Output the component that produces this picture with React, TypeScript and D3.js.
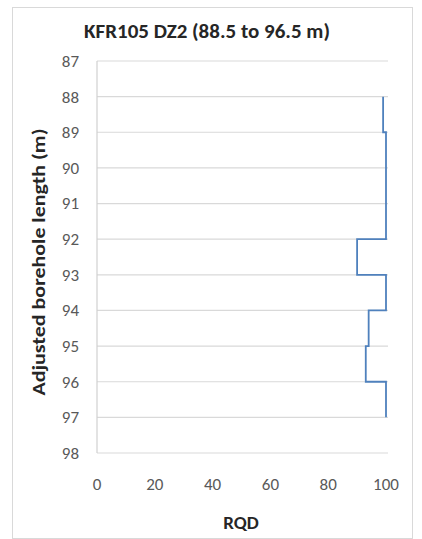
import React from "react";
import * as d3 from "d3";

const depthTicks = [87, 88, 89, 90, 91, 92, 93, 94, 95, 96, 97, 98];
const rqdTicks = [0, 20, 40, 60, 80, 100];
const intervalTop = [88, 89, 90, 91, 92, 93, 94, 95, 96];
const intervalBottom = [89, 90, 91, 92, 93, 94, 95, 96, 97];
const rqdValues = [99, 100, 100, 100, 90, 100, 94, 93, 100];

const W = 422;
const H = 539;

export default function App() {
  const x = d3.scaleLinear().domain([0, 100]).range([97, 386]);
  const y = d3.scaleLinear().domain([87, 98]).range([61, 453]);

  const pts: [number, number][] = [];
  intervalTop.forEach((t, i) => {
    pts.push([rqdValues[i], t]);
    pts.push([rqdValues[i], intervalBottom[i]]);
  });
  const line = d3
    .line<[number, number]>()
    .x((d) => x(d[0]))
    .y((d) => y(d[1]));

  const font = "Carlito, Calibri, Lato, 'Open Sans', sans-serif";

  return (
    <svg
      width={W}
      height={H}
      style={{ position: "absolute", left: 0, top: 0, background: "#fff" }}
      fontFamily={font}
    >
      <rect x={12.5} y={7.5} width={400} height={531} fill="#fff" stroke="#d9d9d9" />
      {depthTicks.map((t) => (
        <line key={t} x1={x(0)} x2={x(100) + 2} y1={y(t)} y2={y(t)} stroke="#d9d9d9" strokeWidth={1.2} />
      ))}
      <line x1={x(0)} x2={x(0)} y1={y(87)} y2={y(98)} stroke="#d0d0d0" strokeWidth={1.2} />
      <path d={line(pts) || ""} fill="none" stroke="#4f81bd" strokeWidth={1.8} />
      {depthTicks.map((t) => (
        <text key={t} x={79} y={y(t)} dy="0.35em" textAnchor="end" fontSize={17} fill="#595959">
          {t}
        </text>
      ))}
      {rqdTicks.map((t) => (
        <text key={t} x={x(t)} y={484} dy="0.35em" textAnchor="middle" fontSize={17} fill="#595959">
          {t}
        </text>
      ))}
      <text x={207} y={38} textAnchor="middle" fontSize={21} fontWeight="bold" fill="#262626">
        KFR105 DZ2 (88.5 to 96.5 m)
      </text>
      <text x={241} y={529} textAnchor="middle" fontSize={19} fontWeight="bold" fill="#262626">
        RQD
      </text>
      <text
        transform={`translate(38,262) rotate(-90)`}
        textAnchor="middle"
        dy="0.35em"
        fontSize={19}
        fontWeight="bold"
        fill="#262626"
        textLength={267}
        lengthAdjust="spacingAndGlyphs"
      >
        Adjusted borehole length (m)
      </text>
    </svg>
  );
}
